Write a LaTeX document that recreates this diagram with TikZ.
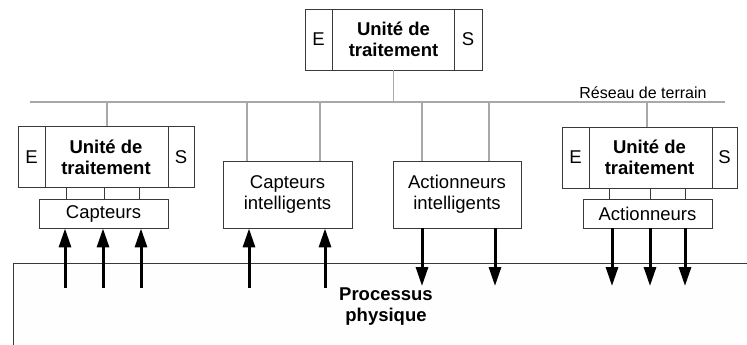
\documentclass[tikz,border=0pt]{standalone}
\usepackage{fontspec}
\setmainfont{Liberation Sans}
\usetikzlibrary{arrows.meta}
\definecolor{boxline}{HTML}{3A3A3A}
\definecolor{busgray}{HTML}{A8A8A8}
\definecolor{procfill}{HTML}{FEFEFE}
\begin{document}
\begin{tikzpicture}[x=1pt,y=-1pt,
  box/.style={draw=boxline,line width=0.9pt,fill=white,inner sep=0pt,align=center,
    font=\fontsize{18.5}{21}\selectfont},
  unitbox/.style={box,minimum width=176pt,minimum height=61pt,font=\fontsize{18.5}{21}\selectfont\bfseries},
  portbox/.style={box,minimum width=27pt,minimum height=61pt},
  bus/.style={draw=busgray,line width=1.3pt},
  link/.style={draw=boxline,line width=0.9pt},
  arr/.style={draw=black,line width=3pt,-{Triangle[length=19pt,width=12pt]}},
  lbl/.style={inner sep=0pt,align=center}]
\useasboundingbox (0,0) rectangle (747,345);
\clip (0,0) rectangle (747,345);

% physical process
\node[draw=boxline,line width=0.9pt,fill=procfill,minimum width=800pt,minimum height=150pt,
      anchor=north west,inner sep=0pt] (proc) at (12.5,263) {};
\node[lbl,font=\fontsize{18.5}{21}\selectfont\bfseries] (pp) at (386,306.5) {Processus\\physique};

% top processing unit
\node[unitbox,minimum width=177pt] (u0) at (393.5,39.5) {Unité de\\traitement};
\node[portbox,anchor=west] (u0e) at (u0.west) {E};
\node[portbox,minimum width=28pt,anchor=east] (u0s) at (u0.east) {S};

% left processing unit
\node[unitbox] (u1) at (106,157) {Unité de\\traitement};
\node[portbox,anchor=west] (u1e) at (u1.west) {E};
\node[portbox,minimum width=26pt,anchor=east] (u1s) at (u1.east) {S};

% right processing unit
\node[unitbox,minimum width=175pt] (u2) at (649.5,157.5) {Unité de\\traitement};
\node[portbox,anchor=west] (u2e) at (u2.west) {E};
\node[portbox,minimum width=25pt,anchor=east] (u2s) at (u2.east) {S};

% sensors / actuators
\node[box,minimum width=129pt,minimum height=29pt] (cap) at (103.5,213.5) {Capteurs};
\node[box,minimum width=129pt,minimum height=29pt] (act) at (647.5,213.5) {Actionneurs};
\node[box,minimum width=129pt,minimum height=67pt] (ci) at (287.5,194.5) {Capteurs\\intelligents};
\node[box,minimum width=128pt,minimum height=67pt] (ai) at (457,194.5) {Actionneurs\\intelligents};

% field bus
\coordinate (busL) at (30,102);
\coordinate (busR) at (725,102);
\draw[bus] (busL) -- (busR);
\node[lbl,font=\fontsize{16}{19}\selectfont,anchor=base] (reseau) at (643,98) {Réseau de terrain};

\draw[bus] (u0.south) -- (u0.south |- busL);
\coordinate (b1) at (107,126);
\draw[bus] (b1 |- busL) -- (b1 |- u1.north);
\coordinate (b2) at (247,161);
\coordinate (b3) at (320,161);
\coordinate (b4) at (422,161);
\coordinate (b5) at (489,161);
\draw[bus] (b2 |- busL) -- (b2 |- ci.north);
\draw[bus] (b3 |- busL) -- (b3 |- ci.north);
\draw[bus] (b4 |- busL) -- (b4 |- ai.north);
\draw[bus] (b5 |- busL) -- (b5 |- ai.north);
\coordinate (b6) at (647,127);
\draw[bus] (b6 |- busL) -- (b6 |- u2.north);

% unit to sensors/actuators
\foreach \x [count=\i] in {66,104,139}{
  \coordinate (k\i) at (\x,199);
  \draw[link] (k\i |- u1.south) -- (k\i |- cap.north);
}
\foreach \x [count=\i] in {609,650,685}{
  \coordinate (m\i) at (\x,199);
  \draw[link] (m\i |- u2.south) -- (m\i |- act.north);
}

% arrows from process to sensors
\foreach \x [count=\i] in {65,103,141}{
  \coordinate (s\i) at (\x,288);
  \draw[arr] (s\i) -- (s\i |- cap.south);
}
\coordinate (si1) at (249,288);
\coordinate (si2) at (325,288);
\draw[arr] (si1) -- (si1 |- ci.south);
\draw[arr] (si2) -- (si2 |- ci.south);

% arrows from actuators to process
\coordinate (ai1) at (422,286);
\coordinate (ai2) at (495,286);
\draw[arr] (ai1 |- ai.south) -- (ai1);
\draw[arr] (ai2 |- ai.south) -- (ai2);
\foreach \x [count=\i] in {612,650,685}{
  \coordinate (t\i) at (\x,286);
  \draw[arr] (t\i |- act.south) -- (t\i);
}
\end{tikzpicture}
\end{document}
